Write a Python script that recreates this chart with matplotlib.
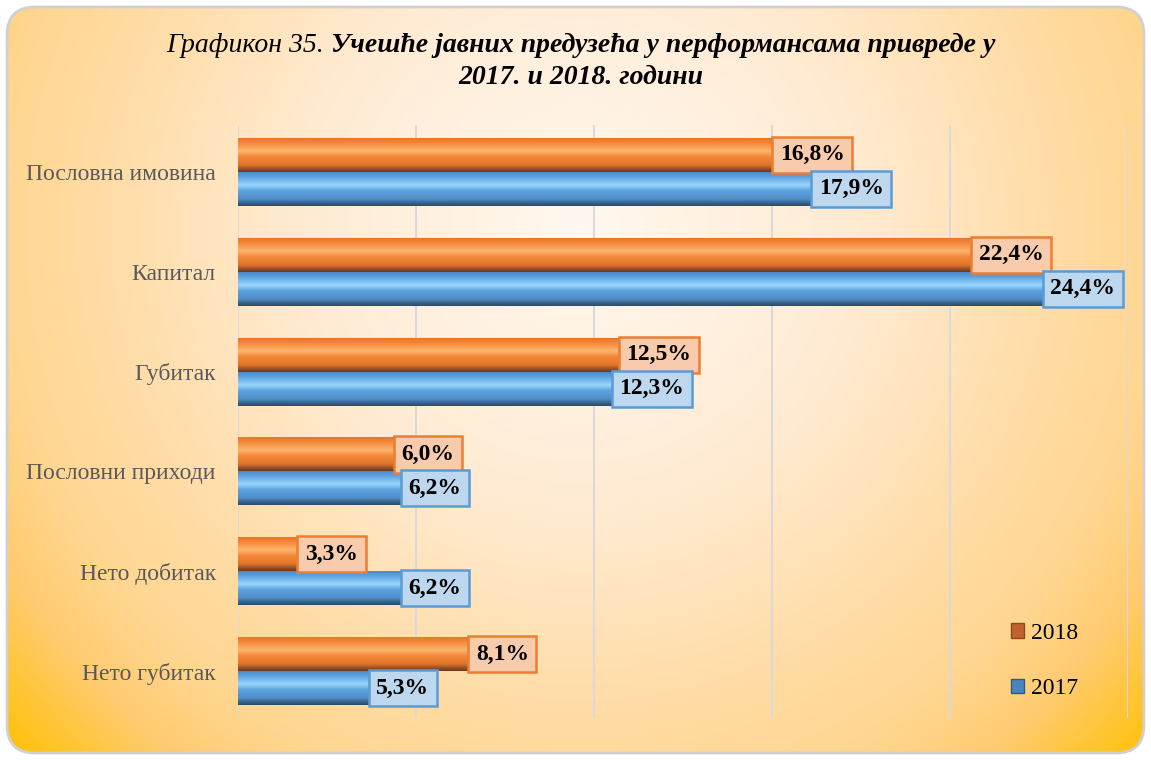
import numpy as np
import matplotlib.pyplot as plt
from matplotlib.patches import FancyBboxPatch, Patch
from matplotlib.colors import LinearSegmentedColormap

# podaci sa grafikona
kategorije = ["Пословна имовина", "Капитал", "Губитак",
              "Пословни приходи", "Нето добитак", "Нето губитак"]
udeo_2018 = [16.8, 22.4, 12.5, 6.0, 3.3, 8.1]
udeo_2017 = [17.9, 24.4, 12.3, 6.2, 6.2, 5.3]
godine = ["2018", "2017"]

W, H = 1151, 760
SERIF = "Liberation Serif"

fig = plt.figure(figsize=(W / 100, H / 100), dpi=100)
fig.patch.set_facecolor("white")

# pozadina - kruzni gradijent od belog ka narandzastom, zaobljen okvir
bg = fig.add_axes([0, 0, 1, 1], zorder=-5)
bg.set_xlim(0, W)
bg.set_ylim(H, 0)
bg.axis("off")
yy, xx = np.mgrid[0:H, 0:W]
d = np.sqrt((xx - 580) ** 2 + (yy - 230) ** 2) / 780
cmap_bg = LinearSegmentedColormap.from_list(
    "bg", [(0, "#FFF8F0"), (0.35, "#FFEBD3"), (0.6, "#FFDDA8"),
           (0.75, "#FFD690"), (0.85, "#FFCB70"), (1, "#FFC000")])
img = bg.imshow(np.clip(d, 0, 1), cmap=cmap_bg, vmin=0, vmax=1,
                extent=(0, W, H, 0), aspect="auto")
ram = FancyBboxPatch((7, 7), W - 14, H - 14,
                     boxstyle="round,pad=0,rounding_size=28",
                     fc="none", ec="#D0D0D0", lw=2)
bg.add_patch(ram)
img.set_clip_path(ram)

# glavni grafikon
ax = fig.add_axes([238 / W, 1 - 718 / H, (1128 - 238) / W, (718 - 125) / H])
ax.patch.set_alpha(0)

y = np.arange(len(kategorije))
h = 0.34
bars18 = ax.barh(y - h / 2, udeo_2018, height=h, color="#F0822E", zorder=2)
bars17 = ax.barh(y + h / 2, udeo_2017, height=h, color="#5B9BD5", zorder=2)


def sjaj(bars, boje):
    """Vertikalni gradijent preko stubica (3D izgled)."""
    cm = LinearSegmentedColormap.from_list("b", boje)
    grad = np.linspace(0, 1, 64).reshape(-1, 1)
    for b in bars:
        x0, y0 = b.get_x(), b.get_y()
        w, hh = b.get_width(), b.get_height()
        ax.imshow(grad, cmap=cm, aspect="auto",
                  extent=(x0, x0 + w, y0 + hh, y0), zorder=3)


sjaj(bars18, [(0, "#E8752A"), (0.15, "#F58A3C"), (0.38, "#FDB56E"),
              (0.55, "#F5893A"), (0.8, "#E07428"), (0.9, "#A0552A"), (1, "#6E3A1C")])
sjaj(bars17, [(0, "#4A8ACB"), (0.15, "#5FA5E2"), (0.38, "#98D6FB"),
              (0.55, "#5DA3E0"), (0.8, "#4F8CC6"), (0.9, "#3C6790"), (1, "#2E4A66")])


def oznake(bars, fc, ec):
    for b in bars:
        v = b.get_width()
        ax.annotate(f"{v:.1f}%".replace(".", ","),
                    xy=(v, b.get_y() + b.get_height() / 2),
                    xytext=(-24, 0), textcoords="offset pixels",
                    ha="center", va="center", fontsize=17, fontweight="bold",
                    family=SERIF,
                    bbox=dict(boxstyle="square,pad=0.32", fc=fc, ec=ec, lw=1.8),
                    zorder=5)


oznake(bars18, "#F8CBAD", "#ED7D31")
oznake(bars17, "#BDD7EE", "#5B9BD5")

ax.set_xlim(0, 25)
ax.set_ylim(5.47, -0.47)
ax.set_xticks(np.arange(0, 26, 5))
ax.tick_params(axis="x", labelbottom=False, length=0)
ax.grid(axis="x", color="#D9D9D9", lw=1.5)
ax.set_axisbelow(True)
for s in ax.spines.values():
    s.set_visible(False)
ax.set_yticks(y, kategorije)
for t in ax.get_yticklabels():
    t.set_fontsize(17)
    t.set_color("#595959")
    t.set_family(SERIF)
ax.tick_params(axis="y", length=0, pad=16)

# legenda
ruke = [Patch(fc="#C0622A", ec="#8A4A20"), Patch(fc="#4A84BC", ec="#2F5B85")]
ax.legend(ruke, godine, loc="center left",
          bbox_to_anchor=(990 / W, 1 - 661 / H), bbox_transform=fig.transFigure,
          frameon=False, prop=dict(family=SERIF, size=17),
          handlelength=0.55, handleheight=0.55, handletextpad=0.3, labelspacing=1.45)

# naslov - prvi deo kurziv, ostatak podebljan kurziv
r = fig.canvas.get_renderer()
t1 = fig.text(0, 1 - 45 / H, "Графикон 35.", style="italic", family=SERIF,
              fontsize=20, va="center")
t2 = fig.text(0, 1 - 45 / H, "Учешће јавних предузећа у перформансама привреде у",
              style="italic", weight="bold", family=SERIF, fontsize=20, va="center")
w1 = t1.get_window_extent(r).width
w2 = t2.get_window_extent(r).width
razmak = 7
x0 = 581 - (w1 + razmak + w2) / 2
t1.set_x(x0 / W)
t2.set_x((x0 + w1 + razmak) / W)
fig.text(581 / W, 1 - 78 / H, "2017. и 2018. години", style="italic", weight="bold",
         family=SERIF, fontsize=20, ha="center", va="center")

fig.savefig("out.png", dpi=100)
